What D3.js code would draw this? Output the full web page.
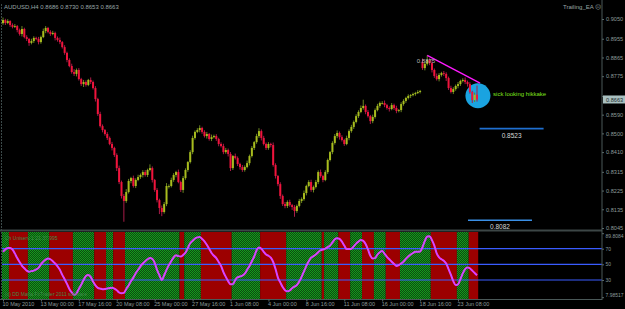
<!DOCTYPE html>
<html>
<head>
<style>
  body {
    margin: 0;
    background-color: #000;
  }
  svg {
    display: block;
    font-family: 'Liberation Sans', Arial, sans-serif;
  }
</style>
<script src="https://d3js.org/d3.v7.min.js"></script>
</head>
<body>
<script>
// AUDUSD H4, 10 May - 24 Jun 2010, closes in pips (x 0.0001)
const closes = [
  9045, 9031, 9040, 9021, 9012, 9016, 8997, 8978, 9002, 8963,
  8954, 8935, 8944, 8959, 8954, 8939, 8963, 8992, 9007, 8988,
  8978, 8983, 8959, 8949, 8939, 8915, 8887, 8853, 8824, 8795,
  8786, 8805, 8761, 8737, 8747, 8733, 8757, 8747, 8718, 8665,
  8593, 8535, 8516, 8497, 8478, 8449, 8430, 8396, 8333, 8266,
  8199, 8175, 8218, 8271, 8285, 8247, 8276, 8290, 8300, 8314,
  8300, 8324, 8333, 8276, 8228, 8179, 8141, 8122, 8160, 8247,
  8247, 8276, 8300, 8314, 8266, 8228, 8285, 8324, 8362, 8410,
  8478, 8507, 8516, 8526, 8507, 8487, 8497, 8473, 8482, 8487,
  8473, 8449, 8439, 8410, 8420, 8401, 8333, 8391, 8381, 8353,
  8338, 8324, 8338, 8357, 8391, 8430, 8458, 8487, 8511, 8478,
  8449, 8430, 8449, 8444, 8348, 8295, 8256, 8199, 8160, 8151,
  8170, 8155, 8146, 8127, 8151, 8175, 8184, 8213, 8247, 8266,
  8228, 8242, 8266, 8314, 8295, 8276, 8314, 8372, 8410, 8454,
  8487, 8502, 8482, 8468, 8449, 8478, 8511, 8531, 8555, 8583,
  8603, 8622, 8632, 8603, 8583, 8559, 8579, 8612, 8632, 8646,
  8646, 8636, 8622, 8617, 8636, 8622, 8608, 8612, 8641, 8656,
  8670, 8680, 8684, 8689, 8694, 8699, 8704, 8814, 8834, 8853,
  8838, 8805, 8776, 8761, 8781, 8790, 8786, 8766, 8718, 8699,
  8713, 8728, 8737, 8752, 8757, 8747, 8737, 8699, 8660, 8686,
  8663
];
const firstOpen = 9030;
// bars that opened away from the previous close [bar, open]
const gaps = [[177, 8842]];

// shadow lengths above / below the body, pips
const wickUp = [
  12, 6, 9, 4, 8, 10, 5, 7, 14, 6,
  9, 5, 11, 8, 6, 10, 7, 12, 9, 5,
  8, 10, 6, 7, 12, 5, 9, 6, 8, 11,
  14, 7, 9, 6, 10, 8, 5, 12, 7, 9,
  6, 11, 8, 5, 9, 7, 10, 6, 8, 12,
  7, 9, 14, 10, 6, 12, 8, 11, 7, 9,
  10, 6, 18, 8, 5, 9, 7, 12, 10, 14,
  8, 11, 9, 6, 12, 7, 10, 8, 5, 9,
  11, 7, 9, 13, 6, 8, 10, 5, 12, 7,
  9, 6, 8, 11, 10, 7, 9, 5, 12, 8,
  6, 10, 8, 12, 7, 9, 5, 11, 14, 8,
  10, 7, 9, 6, 12, 8, 5, 9, 7, 10,
  8, 11, 6, 9, 7, 10, 8, 12, 6, 9,
  11, 7, 10, 8, 12, 6, 9, 7, 5, 8,
  10, 12, 7, 9, 6, 11, 8, 10, 7, 9,
  8, 12, 30, 7, 9, 6, 11, 8, 10, 7,
  9, 12, 6, 8, 10, 7, 11, 5, 9, 8,
  6, 8, 5, 7, 6, 9, 5, 18, 10, 22,
  8, 11, 7, 12, 9, 6, 10, 8, 7, 11,
  9, 7, 10, 6, 8, 12, 7, 9, 6, 10,
  44
];
const wickDn = [
  8, 10, 6, 9, 7, 5, 11, 8, 12, 6,
  10, 14, 7, 9, 6, 11, 8, 5, 10, 7,
  9, 6, 12, 8, 10, 7, 9, 11, 6, 8,
  10, 12, 7, 9, 14, 8, 6, 10, 7, 12,
  9, 7, 11, 8, 10, 6, 12, 9, 14, 10,
  12, 100, 9, 7, 11, 8, 10, 6, 9, 12,
  8, 10, 7, 12, 9, 11, 29, 20, 8, 10,
  12, 7, 9, 11, 6, 10, 14, 8, 9, 7,
  10, 8, 6, 11, 9, 7, 12, 8, 10, 6,
  9, 11, 7, 10, 8, 12, 14, 9, 7, 10,
  12, 9, 8, 6, 11, 7, 10, 8, 9, 12,
  7, 10, 9, 11, 8, 12, 10, 14, 9, 11,
  10, 8, 14, 28, 9, 7, 10, 8, 11, 6,
  9, 12, 7, 10, 8, 11, 6, 9, 7, 10,
  8, 10, 12, 7, 9, 6, 11, 8, 10, 7,
  9, 6, 8, 11, 7, 14, 10, 8, 6, 9,
  7, 10, 8, 12, 6, 9, 11, 7, 10, 8,
  9, 7, 10, 6, 8, 5, 7, 9, 11, 8,
  10, 12, 9, 7, 11, 8, 10, 14, 9, 7,
  10, 8, 11, 9, 7, 10, 12, 8, 14, 9,
  10
];

// oscillator in the lower window
const oscValues = [
  66, 69, 71, 71, 69, 64, 58, 53, 48, 45,
  42, 40.5, 41.3, 42, 43.5, 45.5, 50, 53.5, 56, 57.5,
  56.5, 54, 51, 47.5, 43, 36.5, 31, 25, 18.5, 14,
  11, 13, 18.5, 24, 30, 35, 36.5, 34, 28, 23,
  20, 19, 18.2, 18.5, 19.2, 19.6, 20, 19, 17, 14,
  13, 13.5, 18.5, 23, 28.5, 33, 38.5, 43, 47.5, 51,
  54, 56.5, 58, 57, 52, 43, 36, 30, 36, 43,
  49, 54, 59, 61.5, 60.5, 60, 62, 65, 71, 77,
  80, 83, 84.5, 85, 82.5, 79.5, 75, 70, 64.5, 61,
  58, 53, 48, 40, 34, 28.5, 24.5, 24.5, 30, 33.5,
  34.5, 35.5, 38, 43, 48, 54, 60, 68, 71.5, 70,
  66, 62.5, 61, 58.5, 53, 44, 33, 27, 21, 17,
  15.5, 16.5, 19.5, 21.5, 23.6, 28, 34, 41, 48, 54,
  58.5, 60.5, 62.5, 65.5, 68, 69, 70, 72, 74, 78,
  82, 83.5, 82.5, 79, 74, 69.5, 69.5, 70, 73, 76.5,
  79, 81, 80, 76, 69, 61, 57.5, 58, 62.5, 65.5,
  67, 63.5, 59.5, 56.5, 53.4, 50.5, 48, 49, 51, 53.5,
  57, 60, 62.5, 64.5, 66, 66, 66.5, 72, 80, 85.5,
  86, 81, 74, 64, 59, 56.5, 54.5, 51, 44, 36.5,
  28.5, 23.6, 24.5, 31, 38.5, 44, 46, 45, 42, 39,
  36
];
// trend colouring of the lower window: [first bar, bar after last, state]
const oscBands = [
  [0, 3, 'up'], [3, 11, 'dn'], [11, 20, 'up'], [20, 30, 'dn'], [30, 39, 'up'],
  [39, 44, 'dn'], [44, 47, 'up'], [47, 52, 'dn'], [52, 75, 'up'], [75, 77, 'dn'],
  [77, 84, 'up'], [84, 97, 'dn'], [97, 109, 'up'], [109, 120, 'dn'], [120, 135, 'up'],
  [135, 136, 'dn'], [136, 142, 'up'], [142, 147, 'dn'], [147, 152, 'up'], [152, 157, 'dn'],
  [157, 162, 'up'], [162, 168, 'dn'], [168, 181, 'up'], [181, 192, 'dn'], [192, 197, 'up'],
  [197, 201, 'dn']
];
const oscLevels = [70, 50, 30];
const oscTicks = [89.8084, 70, 50, 30, 7.98517];
const oscTickLabels = ['89.8084', '70', '50', '30', '7.98517'];

const priceTicks = [0.9050, 0.8955, 0.8865, 0.8775, 0.8680, 0.8590, 0.8500, 0.8410, 0.8315, 0.8225, 0.8135, 0.8045];
const timeTickBars = [0, 16, 32, 48, 64, 80, 96, 112, 128, 144, 160, 176, 192];
const timeTickLabels = ['10 May 2010', '13 May 00:00', '17 May 16:00', '20 May 08:00', '25 May 00:00',
  '27 May 16:00', '1 Jun 08:00', '4 Jun 00:00', '8 Jun 16:00', '11 Jun 08:00',
  '16 Jun 00:00', '18 Jun 16:00', '23 Jun 08:00'];

// drawn objects (bar, price)
const trendLine = [[179, 0.8875], [201.3, 0.8742]];
const peakLabel = { bar: 174.6, price: 0.8840, text: '0.8875' };
const circleMark = { bar: 200.4, price: 0.8681 };
const note = { bar: 206.8, price: 0.8678, text: 'sick looking hikkake' };
const levels = [
  { price: 0.8523, from: 201.1, to: 228.1, text: '0.8523', color: '#1f6fd0' },
  { price: 0.8082, from: 196.2, to: 223.2, text: '0.8082', color: '#3a8fe6' }
];
const lastBar = { open: 0.8686, high: 0.8730, low: 0.8653, close: 0.8663 };

const width = 625;
const height = 309;
const axisX = 602;

const svg = d3.select('body')
  .append('svg')
  .attr('width', width)
  .attr('height', height);

svg.append('rect')
  .attr('width', width)
  .attr('height', height)
  .attr('fill', '#000');

const x = d3.scaleLinear().domain([0, 200]).range([3, 477]);
const y = d3.scaleLinear().domain([0.8045, 0.9050]).range([228, 19]);
const yOsc = d3.scaleLinear().domain([7.98517, 89.8084]).range([297.2, 233.2]);
const step = x(1) - x(0);

// build candles
const candles = closes.map((c, i) => {
  let o = i === 0 ? firstOpen : closes[i - 1];
  gaps.forEach(g => { if (g[0] === i) o = g[1]; });
  const hi = Math.max(o, c) + wickUp[i];
  const lo = Math.min(o, c) - wickDn[i];
  return { i, o: o / 10000, c: c / 10000, h: hi / 10000, l: lo / 10000 };
});

const defs = svg.append('defs');
const pat = defs.append('pattern')
  .attr('id', 'chk')
  .attr('width', 2)
  .attr('height', 2)
  .attr('patternUnits', 'userSpaceOnUse');
pat.append('rect').attr('width', 2).attr('height', 2).attr('fill', '#0c4a10');
pat.append('rect').attr('width', 1).attr('height', 1).attr('fill', '#159a1c');
pat.append('rect').attr('x', 1).attr('y', 1).attr('width', 1).attr('height', 1).attr('fill', '#159a1c');

const clipMain = defs.append('clipPath').attr('id', 'clipMain');
clipMain.append('rect').attr('x', 2).attr('y', 6).attr('width', axisX - 2).attr('height', 223);

// ---- lower window ----
const oscTop = 232;
const oscBottom = 299;

svg.append('g')
  .selectAll('rect')
  .data(oscBands)
  .join('rect')
  .attr('x', d => Math.max(2, x(d[0]) - step / 2))
  .attr('width', d => x(d[1]) - step / 2 - Math.max(2, x(d[0]) - step / 2))
  .attr('y', oscTop)
  .attr('height', oscBottom - oscTop)
  .attr('fill', d => d[2] === 'up' ? 'url(#chk)' : '#9c0000');

svg.append('g')
  .selectAll('line')
  .data(oscLevels)
  .join('line')
  .attr('x1', 2)
  .attr('x2', axisX)
  .attr('y1', d => yOsc(d))
  .attr('y2', d => yOsc(d))
  .attr('stroke', '#3a5cff')
  .attr('stroke-width', 1.2);

const oscLine = d3.line()
  .x((d, i) => x(i))
  .y(d => yOsc(d))
  .curve(d3.curveMonotoneX);

svg.append('path')
  .datum(oscValues)
  .attr('d', oscLine)
  .attr('fill', 'none')
  .attr('stroke', '#ff20ff')
  .attr('stroke-width', 2);

svg.append('path')
  .datum(oscValues)
  .attr('d', oscLine)
  .attr('fill', 'none')
  .attr('stroke', '#8a8aff')
  .attr('stroke-width', 0.7);

svg.append('text')
  .attr('x', 5)
  .attr('y', 240)
  .attr('fill', '#3f8a4a')
  .attr('font-size', 5)
  .text('Ch Uniserv  1  21  37.995');

svg.append('text')
  .attr('x', 5)
  .attr('y', 296)
  .attr('fill', '#3f8a4a')
  .attr('font-size', 5)
  .text('(c) DD Mafia     FxTrader     2011     software');

// separator between windows
svg.append('rect')
  .attr('x', 0)
  .attr('y', 229.5)
  .attr('width', axisX)
  .attr('height', 2)
  .attr('fill', '#3c4646');

// ---- main window objects ----
const main = svg.append('g').attr('clip-path', 'url(#clipMain)');

main.append('circle')
  .attr('cx', x(circleMark.bar))
  .attr('cy', y(circleMark.price))
  .attr('r', 12.5)
  .attr('fill', '#1aa3e0');

main.append('g')
  .selectAll('line')
  .data(candles)
  .join('line')
  .attr('x1', d => x(d.i))
  .attr('x2', d => x(d.i))
  .attr('y1', d => y(d.h))
  .attr('y2', d => y(d.l))
  .attr('stroke', d => d.c >= d.o ? '#6a8620' : '#a81c48')
  .attr('stroke-width', 1);

main.append('g')
  .selectAll('rect')
  .data(candles)
  .join('rect')
  .attr('x', d => x(d.i) - 1)
  .attr('width', 2)
  .attr('y', d => y(Math.max(d.o, d.c)))
  .attr('height', d => Math.max(0.8, Math.abs(y(d.o) - y(d.c))))
  .attr('fill', d => d.c >= d.o ? '#a8bc1e' : '#f0143c');

main.append('line')
  .attr('x1', x(trendLine[0][0]))
  .attr('y1', y(trendLine[0][1]))
  .attr('x2', x(trendLine[1][0]))
  .attr('y2', y(trendLine[1][1]))
  .attr('stroke', '#ff1aff')
  .attr('stroke-width', 1.3);

main.append('text')
  .attr('x', x(peakLabel.bar))
  .attr('y', y(peakLabel.price))
  .attr('fill', '#b8b8b8')
  .attr('font-size', 6)
  .text(peakLabel.text);

main.append('text')
  .attr('x', x(note.bar))
  .attr('y', y(note.price))
  .attr('fill', '#7ee21c')
  .attr('font-size', 6)
  .text(note.text);

levels.forEach(l => {
  main.append('line')
    .attr('x1', x(l.from))
    .attr('x2', x(l.to))
    .attr('y1', y(l.price))
    .attr('y2', y(l.price))
    .attr('stroke', l.color)
    .attr('stroke-width', 1.6);
  main.append('text')
    .attr('x', x((l.from + l.to) / 2))
    .attr('y', y(l.price) + 9)
    .attr('text-anchor', 'middle')
    .attr('fill', '#d8d8d8')
    .attr('font-size', 6.5)
    .text(l.text);
});

// title
svg.append('text')
  .attr('x', 4)
  .attr('y', 9)
  .attr('fill', '#9aa6a6')
  .attr('font-size', 6)
  .text('AUDUSD,H4  ' + [lastBar.open, lastBar.high, lastBar.low, lastBar.close].map(d3.format('.4f')).join(' '));

svg.append('text')
  .attr('x', 563)
  .attr('y', 9)
  .attr('fill', '#9aa6a6')
  .attr('font-size', 6)
  .text('Trailing_EA  \u2639');

// frame
svg.append('line')
  .attr('x1', 1.5).attr('x2', 1.5).attr('y1', 4).attr('y2', 300)
  .attr('stroke', '#3c4a4a').attr('stroke-dasharray', '2,1');
svg.append('line')
  .attr('x1', axisX).attr('x2', axisX).attr('y1', 0).attr('y2', 300)
  .attr('stroke', '#4a5858');
svg.append('line')
  .attr('x1', 0).attr('x2', axisX).attr('y1', 299.5).attr('y2', 299.5)
  .attr('stroke', '#4a5858');

// price axis (0.8680 sits under the current price marker)
const priceAxis = svg.append('g')
  .attr('transform', `translate(${axisX},0)`)
  .call(d3.axisRight(y).tickValues(priceTicks)
    .tickFormat(d => d === 0.8680 ? '' : d3.format('.4f')(d)).tickSize(2).tickPadding(2));
priceAxis.select('.domain').remove();
priceAxis.selectAll('line').attr('stroke', '#5a6a6a');
priceAxis.selectAll('text').attr('fill', '#8c9a9a').attr('font-size', 5.6).attr('font-family', 'Liberation Sans, Arial, sans-serif');

// oscillator axis
const oscAxis = svg.append('g')
  .attr('transform', `translate(${axisX},0)`)
  .call(d3.axisRight(yOsc).tickValues(oscTicks).tickFormat((d, i) => oscTickLabels[i]).tickSize(2).tickPadding(1.5));
oscAxis.select('.domain').remove();
oscAxis.selectAll('line').attr('stroke', '#5a6a6a');
oscAxis.selectAll('text').attr('fill', '#8c9a9a').attr('font-size', 5).attr('font-family', 'Liberation Sans, Arial, sans-serif');
oscAxis.selectAll('.tick').filter(d => d === 89.8084).select('text').attr('dy', '0.9em');
oscAxis.selectAll('.tick').filter(d => d === 7.98517).select('text').attr('dy', '-0.1em');

// current price marker
const cy = y(lastBar.close);
svg.append('rect')
  .attr('x', axisX + 1)
  .attr('y', cy - 4)
  .attr('width', width - axisX - 1)
  .attr('height', 8)
  .attr('fill', '#a9c0c0');
svg.append('text')
  .attr('x', axisX + 4)
  .attr('y', cy + 2.2)
  .attr('fill', '#1c2a2a')
  .attr('font-size', 5.6)
  .text(d3.format('.4f')(lastBar.close));

// time axis
const timeAxis = svg.append('g')
  .attr('transform', 'translate(0,299.5)')
  .call(d3.axisBottom(x).tickValues(timeTickBars).tickFormat((d, i) => timeTickLabels[i]).tickSize(2).tickPadding(1));
timeAxis.select('.domain').remove();
timeAxis.selectAll('line').attr('stroke', '#5a6a6a');
timeAxis.selectAll('text')
  .attr('text-anchor', 'start')
  .attr('dx', -1)
  .attr('fill', '#8c9a9a')
  .attr('font-size', 5.5)
  .attr('font-family', 'Liberation Sans, Arial, sans-serif');
</script>
</body>
</html>
